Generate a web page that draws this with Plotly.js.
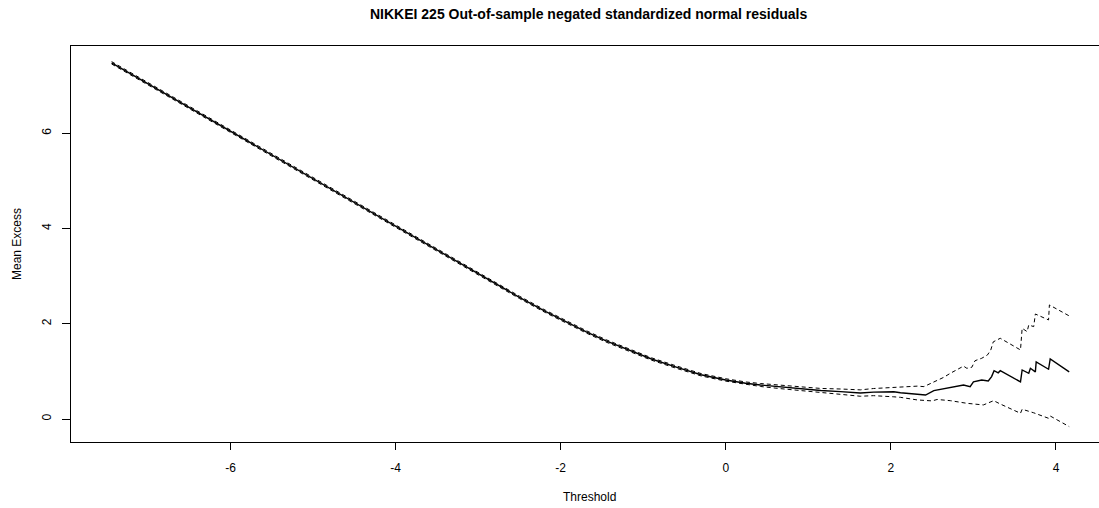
<!DOCTYPE html>
<html>
<head>
<meta charset="utf-8">
<script src="https://cdn.plot.ly/plotly-3.0.1.min.js"></script>
<style>html,body{margin:0;padding:0;background:#fff;}#chart{width:1099px;height:508px;}</style>
</head>
<body>
<div id="chart"></div>
<script>
// Mean excess (centre line)
var centerX = [-7.44,-7.0,-6.5,-6.0,-5.5,-5.0,-4.5,-4.0,-3.5,-3.0,-2.5,-2.18,-1.93,-1.69,-1.45,-1.2,-0.9,-0.6,-0.3,0.0,0.24,0.42,0.665,0.91,1.15,1.39,1.63,1.79,2.035,
  2.116,2.28,2.42,2.52,2.60,2.72,2.78,2.88,2.96,3.00,3.10,3.18,3.22,3.25,3.30,3.325,3.57,3.59,3.67,3.69,3.75,3.76,3.91,3.93,4.16];
var centerY = [7.48,7.04,6.54,6.04,5.54,5.04,4.54,4.045,3.55,3.045,2.555,2.255,2.03,1.83,1.64,1.46,1.26,1.09,0.93,0.82,0.75,0.714,0.672,0.63,0.597,0.574,0.545,0.565,0.572,
  0.55,0.525,0.504,0.595,0.62,0.666,0.68,0.714,0.68,0.78,0.82,0.80,0.89,1.015,0.97,1.015,0.78,1.03,0.96,1.065,0.99,1.20,1.045,1.26,0.99];

// Upper confidence band
var upperX = [-7.44,-7.0,-6.5,-6.0,-5.5,-5.0,-4.5,-4.0,-3.5,-3.0,-2.5,-2.18,-1.93,-1.69,-1.45,-1.2,-0.9,-0.6,-0.3,0.0,0.24,0.42,0.665,0.91,1.15,1.39,1.63,1.79,2.035,
  2.116,2.32,2.40,2.52,2.64,2.72,2.80,2.88,2.92,2.98,3.02,3.10,3.17,3.21,3.24,3.285,3.325,3.57,3.59,3.65,3.67,3.73,3.75,3.91,3.92,4.16];
var upperY = [7.505,7.065,6.565,6.065,5.565,5.065,4.565,4.07,3.575,3.07,2.58,2.28,2.055,1.855,1.665,1.485,1.285,1.115,0.955,0.845,0.778,0.745,0.707,0.668,0.642,0.63,0.612,0.64,0.668,
  0.68,0.69,0.68,0.78,0.875,0.96,1.03,1.11,1.065,1.086,1.225,1.275,1.345,1.45,1.62,1.66,1.695,1.45,1.905,1.835,1.975,1.94,2.205,2.08,2.395,2.165];

// Lower confidence band
var lowerX = [-7.44,-7.0,-6.5,-6.0,-5.5,-5.0,-4.5,-4.0,-3.5,-3.0,-2.5,-2.18,-1.93,-1.69,-1.45,-1.2,-0.9,-0.6,-0.3,0.0,0.24,0.42,0.665,0.91,1.15,1.39,1.63,1.79,2.035,
  2.116,2.32,2.50,2.56,2.72,2.92,3.12,3.245,3.325,3.57,3.59,3.73,3.91,3.93,4.16];
var lowerY = [7.455,7.015,6.515,6.015,5.515,5.015,4.515,4.02,3.525,3.02,2.53,2.23,2.005,1.805,1.615,1.435,1.235,1.065,0.905,0.795,0.722,0.683,0.637,0.592,0.552,0.518,0.478,0.49,0.466,
  0.455,0.40,0.38,0.41,0.385,0.33,0.295,0.385,0.315,0.12,0.205,0.13,0.015,0.063,-0.16];

var xTicks = [-6,-4,-2,0,2,4];
var yTicks = [0,2,4,6];

var font = "Liberation Sans, Arial, Helvetica, sans-serif";

var traces = [
  {x: upperX, y: upperY, mode: "lines", line: {color: "#000", width: 1, dash: "4px,3px"}, hoverinfo: "skip"},
  {x: lowerX, y: lowerY, mode: "lines", line: {color: "#000", width: 1, dash: "4px,3px"}, hoverinfo: "skip"},
  {x: centerX, y: centerY, mode: "lines", line: {color: "#000", width: 1.4}, hoverinfo: "skip"}
];

var layout = {
  width: 1099, height: 508,
  margin: {l: 71, r: 0, t: 46, b: 66, pad: 0},
  paper_bgcolor: "#fff", plot_bgcolor: "#fff",
  showlegend: false,
  font: {family: font, size: 12, color: "#000"},
  xaxis: {
    range: [-7.932, 4.521], tickvals: xTicks, ticktext: xTicks.map(String),
    ticks: "outside", ticklen: 7, tickwidth: 1, tickcolor: "#000",
    showline: true, linecolor: "#000", linewidth: 1, mirror: true,
    showgrid: false, zeroline: false, ticklabelstandoff: 8,
    tickfont: {family: font, size: 12, color: "#000"}
  },
  yaxis: {
    range: [-0.483, 7.833], tickvals: yTicks, ticktext: yTicks.map(String),
    ticks: "outside", ticklen: 8, tickwidth: 1, tickcolor: "#000", tickangle: -90,
    showline: true, linecolor: "#000", linewidth: 1, mirror: false,
    showgrid: false, zeroline: false, ticklabelstandoff: 6,
    tickfont: {family: font, size: 12, color: "#000"}
  },
  annotations: [
    {text: "<b>NIKKEI 225 Out-of-sample negated standardized normal residuals</b>", xref: "paper", yref: "paper",
     x: 0.503, y: 1.081, xanchor: "center", yanchor: "middle", showarrow: false,
     font: {family: font, size: 14, color: "#000"}},
    {text: "Threshold", xref: "paper", yref: "paper", x: 0.504, y: -0.139,
     xanchor: "center", yanchor: "middle", showarrow: false, font: {family: font, size: 12, color: "#000"}},
    {text: "Mean Excess", xref: "paper", yref: "paper", x: -0.0525, y: 0.5, textangle: -90,
     xanchor: "center", yanchor: "middle", showarrow: false, font: {family: font, size: 12, color: "#000"}}
  ]
};

Plotly.newPlot("chart", traces, layout, {displayModeBar: false, staticPlot: true});
</script>
</body>
</html>
